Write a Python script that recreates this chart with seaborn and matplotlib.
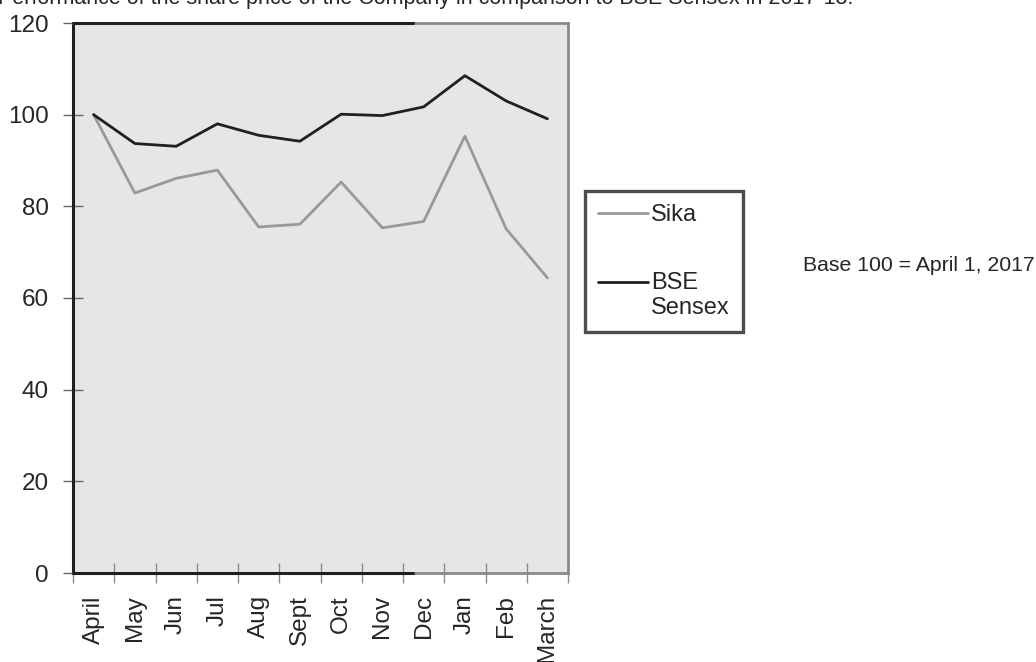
import numpy as np
import pandas as pd
import matplotlib
matplotlib.use("Agg")
import matplotlib.pyplot as plt
import seaborn as sns
from matplotlib.lines import Line2D
from matplotlib.legend_handler import HandlerLine2D

months = ["April", "May", "Jun", "Jul", "Aug", "Sept", "Oct", "Nov", "Dec", "Jan", "Feb", "March"]
sika = [100, 82.9, 86.1, 87.9, 75.5, 76.1, 85.3, 75.3, 76.7, 95.3, 75.1, 64.4]
sensex = [100, 93.7, 93.1, 98.0, 95.5, 94.2, 100.1, 99.8, 101.7, 108.5, 103.0, 99.1]
series_names = ["Sika", "BSE\nSensex"]
y_ticks = [0, 20, 40, 60, 80, 100, 120]
title = "Performance of the share price of the Company in comparison to BSE Sensex in 2017-18."
note = "Base 100 = April 1, 2017"

sns.set_style("white")
plt.rcParams["font.family"] = ["Liberation Sans", "DejaVu Sans"]

DARK = "#231f20"
GRAY = "#999999"

df = pd.DataFrame({
    "idx": list(range(len(months))) * 2,
    "value": sika + sensex,
    "series": [series_names[0]] * len(months) + [series_names[1]] * len(months),
})

fig = plt.figure(figsize=(10.36, 6.62), dpi=100)
ax = fig.add_axes([73 / 1036, 1 - 573 / 662, (568 - 73) / 1036, (573 - 23) / 662])
ax.set_facecolor("#e5e6e8")

sns.lineplot(data=df, x="idx", y="value", hue="series",
             palette={series_names[0]: GRAY, series_names[1]: DARK},
             linewidth=2, ax=ax, legend=False)

ax.set_xlim(-0.5, len(months) - 0.5)
ax.set_ylim(0, 120)
ax.set_xlabel("")
ax.set_ylabel("")

ax.set_xticks(np.arange(-0.5, len(months), 1))
ax.set_xticklabels([])
ax.set_xticks(np.arange(len(months)), minor=True)
ax.set_xticklabels(months, minor=True, rotation=90, fontsize=17.5)
ax.tick_params(axis="x", which="major", bottom=True, direction="inout", length=15, width=1, color="#8a8a8a")
ax.tick_params(axis="x", which="minor", bottom=True, length=0, pad=16)

ax.set_yticks(y_ticks)
ax.set_yticklabels([str(v) for v in y_ticks], fontsize=17.5)
ax.tick_params(axis="y", left=True, direction="inout", length=15, width=1, color="#666666", pad=10)

# frame: gray right/top/bottom with dark left part, dark left spine
for side in ["top", "bottom", "right"]:
    ax.spines[side].set_color("#8a8a8a")
    ax.spines[side].set_linewidth(2)
ax.spines["left"].set_color(DARK)
ax.spines["left"].set_linewidth(2.2)
dark_frac = (413 - 73) / 495
for yv in (0, 120):
    ax.axhline(yv, xmin=0, xmax=dark_frac, color=DARK, linewidth=2.2, clip_on=False, zorder=5)


class RaisedLine(HandlerLine2D):
    def __init__(self, raise_pts=0, **kw):
        super().__init__(**kw)
        self.raise_pts = raise_pts

    def create_artists(self, legend, orig_handle, xdescent, ydescent, width, height, fontsize, trans):
        arts = super().create_artists(legend, orig_handle, xdescent, ydescent, width, height, fontsize, trans)
        for a in arts:
            if isinstance(a, Line2D):
                a.set_ydata(np.asarray(a.get_ydata()) + self.raise_pts)
        return arts


h_sika = Line2D([], [], color=GRAY, linewidth=2)
h_bse = Line2D([], [], color=DARK, linewidth=2)
leg = fig.legend([h_sika, h_bse], series_names, loc="upper left",
                 bbox_to_anchor=(585 / 1036, 1 - 191 / 662),
                 fontsize=17, frameon=True, fancybox=False,
                 handlelength=2.1, handletextpad=0.15, labelspacing=1.95,
                 borderpad=0.55, borderaxespad=0,
                 handler_map={h_bse: RaisedLine(raise_pts=9.5)})
for t in leg.get_texts():
    t.set_linespacing(1.15)
frame = leg.get_frame()
frame.set_edgecolor(DARK)
frame.set_linewidth(2.4)
frame.set_facecolor("white")

fig.text(803 / 1036, 1 - 265 / 662, note, fontsize=15.3, va="center", ha="left")
fig.text(-2 / 1036, 1 - 4 / 662, title, fontsize=15.5, va="baseline", ha="left")

fig.savefig("out.png", dpi=100)
